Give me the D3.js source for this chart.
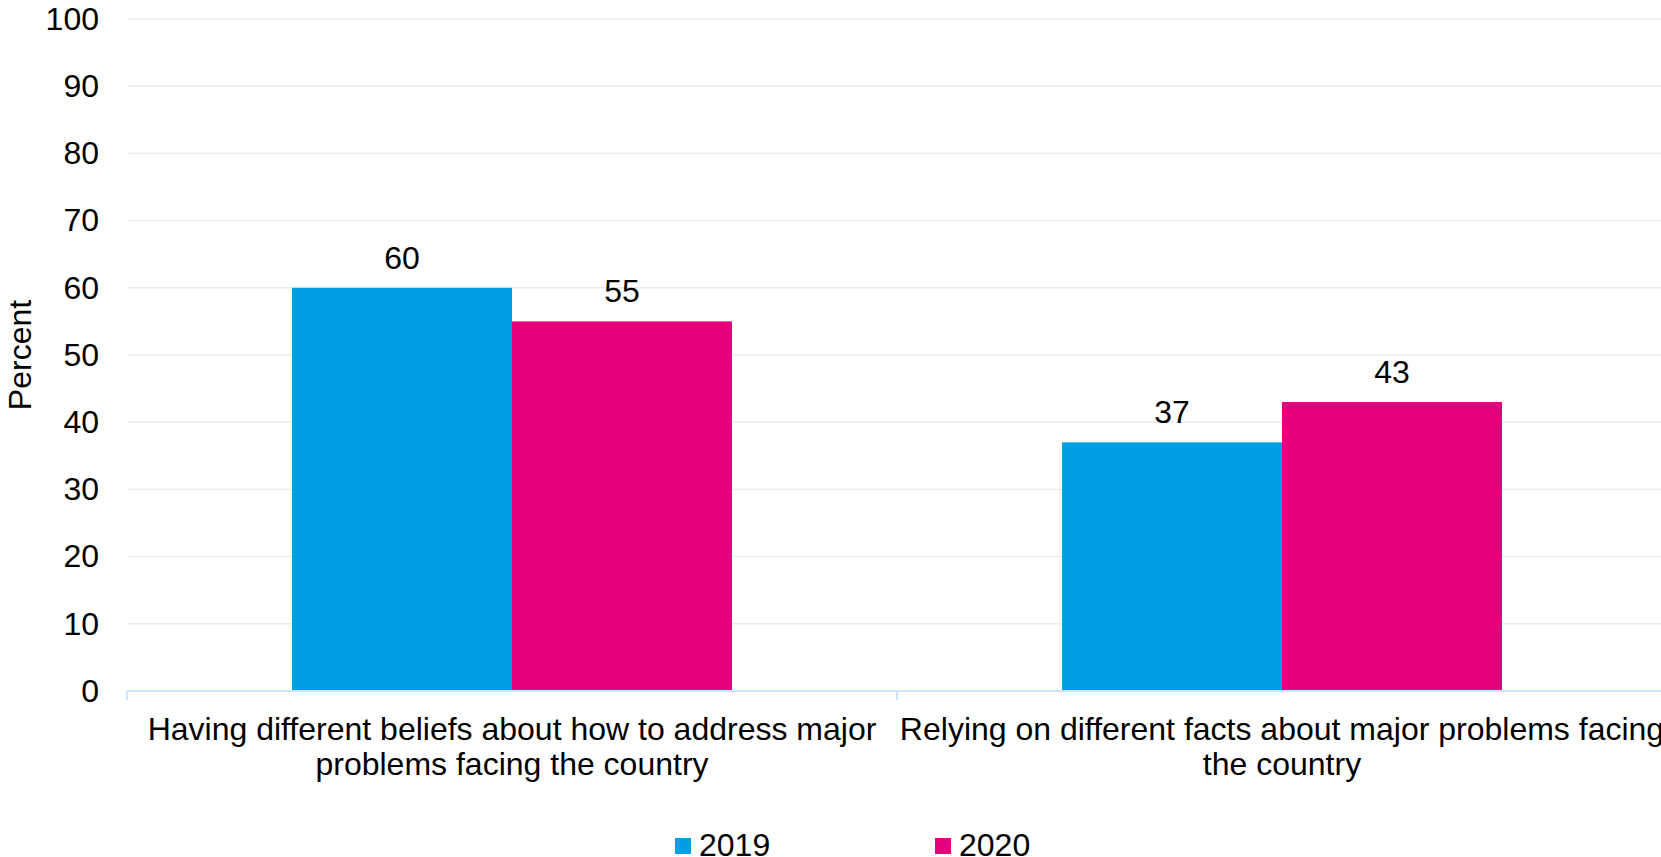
<!DOCTYPE html>
<html><head><meta charset="utf-8">
<script src="https://cdn.jsdelivr.net/npm/d3@7"></script>
<style>
html,body{margin:0;padding:0;background:#fff;overflow:hidden;}
text{font-family:"Liberation Sans",Arial,sans-serif;fill:#000;}
</style></head>
<body>
<svg id="chart" width="1661" height="857"></svg>
<script>
const categories = [
  ["Having different beliefs about how to address major", "problems facing the country"],
  ["Relying on different facts about major problems facing", "the country"]
];
const seriesNames = ["2019", "2020"];
const values2019 = [60, 37];
const values2020 = [55, 43];
const yTicks = [0, 10, 20, 30, 40, 50, 60, 70, 80, 90, 100];
const colors = ["#009FE3", "#E6007E"];

(function () {
const svg = d3.select("#chart");
const fs = 32;
const plotLeft = 127, plotTop = 19, plotBottom = 691;
const catW = 770;
const catIdx = categories.map((c, i) => i);

const x0 = d3.scaleBand().domain(catIdx).range([plotLeft, plotLeft + catW * categories.length]).padding(0);
const x1 = d3.scaleBand().domain(seriesNames)
  .range([x0.bandwidth() * 0.2143, x0.bandwidth() * (1 - 0.2143)]).padding(0);
const y = d3.scaleLinear().domain([0, 100]).range([plotBottom, plotTop]);

// gridlines
svg.append("g").selectAll("line").data(yTicks.filter(d => d > 0)).join("line")
  .attr("x1", plotLeft).attr("x2", 1661)
  .attr("y1", d => y(d)).attr("y2", d => y(d))
  .attr("stroke", "#ececec").attr("stroke-width", 1.5);

// y axis labels
const yAxis = d3.axisLeft(y).tickValues(yTicks).tickSize(0).tickPadding(0);
const ya = svg.append("g").attr("transform", `translate(99,0)`).call(yAxis);
ya.select(".domain").remove();
ya.selectAll("text").attr("font-size", fs).attr("font-family", '"Liberation Sans",Arial,sans-serif').attr("fill", "#000");

// bars
const data = categories.map((c, i) => ({ i, vals: [values2019[i], values2020[i]] }));
const groups = svg.append("g").selectAll("g").data(data).join("g")
  .attr("transform", d => `translate(${x0(d.i)},0)`);
groups.selectAll("rect").data(d => d.vals.map((v, k) => ({ k, v }))).join("rect")
  .attr("x", d => x1(seriesNames[d.k]))
  .attr("width", x1.bandwidth())
  .attr("y", d => y(d.v))
  .attr("height", d => y(0) - y(d.v))
  .attr("fill", d => colors[d.k]);
groups.selectAll("text.val").data(d => d.vals.map((v, k) => ({ k, v }))).join("text")
  .attr("class", "val")
  .attr("x", d => x1(seriesNames[d.k]) + x1.bandwidth() / 2)
  .attr("y", d => y(d.v) - 19)
  .attr("text-anchor", "middle").attr("font-size", fs)
  .text(d => d.v);

// x axis
const xa = svg.append("g").attr("transform", `translate(0,${plotBottom})`);
xa.append("line").attr("x1", plotLeft).attr("x2", 1661).attr("y1", 0).attr("y2", 0)
  .attr("stroke", "#cde5f8").attr("stroke-width", 2);
const bounds = [plotLeft].concat(catIdx.map(i => x0(i) + x0.bandwidth()));
xa.selectAll("line.tk").data(bounds).join("line").attr("class", "tk")
  .attr("x1", d => d).attr("x2", d => d).attr("y1", 0).attr("y2", 9)
  .attr("stroke", "#cde5f8").attr("stroke-width", 2);
xa.selectAll("text.cat").data(data).join("text").attr("class", "cat")
  .attr("x", d => x0(d.i) + x0.bandwidth() / 2)
  .attr("y", 48.5)
  .attr("text-anchor", "middle").attr("font-size", fs)
  .selectAll("tspan").data(d => categories[d.i]).join("tspan")
  .attr("x", function () { return d3.select(this.parentNode).attr("x"); })
  .attr("dy", (d, j) => j === 0 ? 0 : 35.7)
  .text(d => d);

// y axis title
svg.append("text").attr("transform", `translate(31,355) rotate(-90)`)
  .attr("text-anchor", "middle").attr("font-size", fs).text("Percent");

// legend
const legX = [675, 935];
const leg = svg.append("g").selectAll("g").data(seriesNames).join("g")
  .attr("transform", (d, i) => `translate(${legX[i]},838)`);
leg.append("rect").attr("width", 16).attr("height", 16).attr("fill", (d, i) => colors[i]);
leg.append("text").attr("x", 24).attr("y", 17.5).attr("font-size", fs).text(d => d);
})();
</script>
</body></html>
